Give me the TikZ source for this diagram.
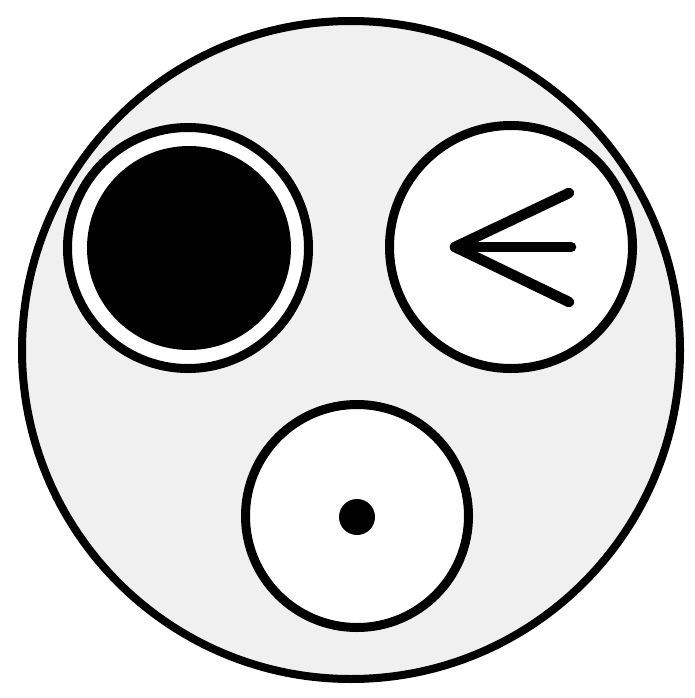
\documentclass[tikz,border=0pt]{standalone}
\begin{document}
\begin{tikzpicture}[x=1pt,y=-1pt,
  ring/.style={draw=black,line width=9pt},
  spoke/.style={draw=black,line width=10.5pt,line cap=round,line join=round}]
\useasboundingbox (0,0) rectangle (694,698);
\fill[white] (0,0) rectangle (694,698);
\node[circle,ring,line width=8pt,fill=black!6,minimum size=658pt,inner sep=0pt] (big) at (351,350) {};
\node[circle,ring,fill=white,minimum size=241pt,inner sep=0pt] (tl) at (188,248) {};
\node[circle,fill=black,minimum size=204pt,inner sep=0pt] (tlin) at (189,248) {};
\node[circle,ring,fill=white,minimum size=243pt,inner sep=0pt] (tr) at (511,247) {};
\coordinate (tip) at (455,247);
\coordinate (e1) at (569,193);
\coordinate (e2) at (571,247);
\coordinate (e3) at (569,302);
\draw[spoke] (e1) -- (tip) -- (e3);
\draw[spoke] (tip) -- (e2);
\node[circle,ring,fill=white,minimum size=223pt,inner sep=0pt] (bot) at (357,516) {};
\node[circle,fill=black,minimum size=36pt,inner sep=0pt] (dot) at (357,517) {};
\end{tikzpicture}
\end{document}
